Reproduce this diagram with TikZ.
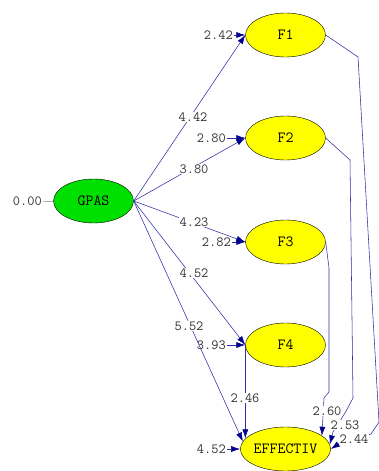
\documentclass[tikz,border=0pt]{standalone}
\usetikzlibrary{arrows.meta}
\usetikzlibrary{shapes.geometric}
\definecolor{ln}{RGB}{45,45,165}
\definecolor{tip}{RGB}{0,0,140}
\definecolor{lv1}{RGB}{255,255,0}
\definecolor{lv2}{RGB}{0,224,0}
\definecolor{tx}{RGB}{50,50,50}

\begin{document}
\begin{tikzpicture}[
    x=1pt, y=-1pt,
    v/.style={
        ellipse, draw=black, line width=0.4pt, fill=lv1,
        minimum width=80pt, minimum height=44pt, inner sep=0pt,
        font={\ttfamily\fontsize{15.5}{16}\selectfont}
    },
    l/.style={
        line width=0.55pt, color=ln
    },
    a/.style={
        l, -{Latex[length=9pt,width=6pt,color=tip]}
    },
    n/.style={font={\ttfamily\fontsize{14}{14}\selectfont}, text=tx, inner sep=1pt},
    w/.style={n, fill=white}
]

    \useasboundingbox (0,0) rectangle (378,471);

    \node [v, fill=lv2] (GPAS) at ( 93.5, 201) {GPAS};
    \node [v] (F1)  at (285.5,  35) {F1};
    \node [v] (F2)  at (285.5, 138) {F2};
    \node [v] (F3)  at (285.5, 242) {F3};
    \node [v] (F4)  at (285.5, 345) {F4};
    \node [v] (EFF) at (285.5, 449) {EFFECTIV};

    \node [n, anchor=east] (e0) at ( 43, 201) {0.00};
    \node [n, anchor=east] (e1) at (234,  35) {2.42};
    \node [n, anchor=east] (e2) at (227, 138) {2.80};
    \node [n, anchor=east] (e3) at (232, 242) {2.82};
    \node [n, anchor=east] (e4) at (227, 345) {3.93};
    \node [n, anchor=east] (e5) at (227, 449) {4.52};

    \draw [gray!60, line width=0.8pt] (e0) -- (GPAS);
    \draw (e1) edge [a] (F1);
    \draw (e2) edge [a] (F2);
    \draw (e3) edge [a] (F3);
    \draw (e4) edge [a] (F4);
    \draw (e5) edge [a] (EFF);

    \draw [a] (GPAS.east) -- (F1.west);
    \draw [a] (GPAS.east) -- (F2.west);
    \draw [a] (GPAS.east) -- (F3.west);
    \draw [a] (GPAS.east) -- (F4.west);
    \draw [a] (GPAS.east) -- (EFF.170);
    \draw [a] (F4.west) -- (F4.west |- EFF.165);
    \draw [a] (F3.east) -- (329, 268) -- (329, 392) -- (324, 398) -- (EFF.20);
    \draw [a] (F2.east) -- (350, 160) -- (353, 398) -- (345, 413) -- (333, 432) -- (EFF.6);
    \draw [a] (F1.east) -- (358, 57) -- (379, 422) -- (371, 434) -- (340, 443) -- (EFF.east);

    \node [w] (p1) at (193, 117) {4.42};
    \node [w] (p2) at (194, 169) {3.80};
    \node [w] (p3) at (194, 222) {4.23};
    \node [w] (p4) at (194, 273) {4.52};
    \node [w] (p5) at (189, 326) {5.52};
    \node [w] (p6) at (245, 398) {2.46};
    \node [w] (p7) at (327, 411) {2.60};
    \node [w] (p8) at (345, 425) {2.53};
    \node [w] (p9) at (354, 439) {2.44};

\end{tikzpicture}
\end{document}
